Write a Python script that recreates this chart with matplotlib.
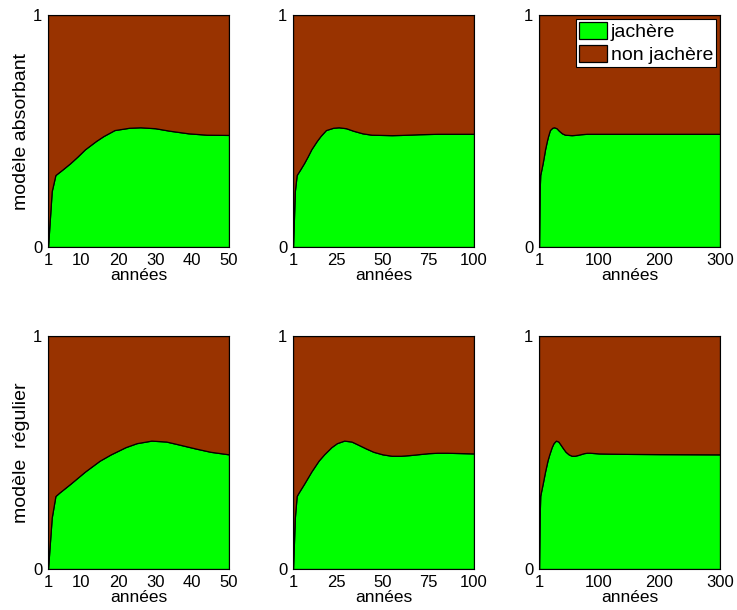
import numpy as np
import matplotlib
matplotlib.use("Agg")
import matplotlib.pyplot as plt

plt.rcParams['font.family'] = ['Liberation Sans', 'DejaVu Sans']

# proportion of fallow land (jachère), per model
years_abs = [1, 2, 3, 5, 7, 9, 11, 14, 16, 19, 23, 26, 30, 34, 39, 44, 50,
             55, 60, 70, 80, 100, 150, 200, 300]
jachere_abs = [0, 0.24, 0.31, 0.335, 0.361, 0.39, 0.421, 0.457, 0.478, 0.504,
               0.514, 0.516, 0.512, 0.501, 0.49, 0.484, 0.483,
               0.482, 0.483, 0.486, 0.488, 0.488, 0.488, 0.488, 0.488]

years_reg = [1, 2, 3, 4, 7, 11, 15, 18, 22, 25, 29, 33, 36, 41, 45, 50, 55,
             60, 65, 70, 75, 80, 85, 90, 100, 120, 150, 200, 300]
jachere_reg = [0, 0.22, 0.313, 0.327, 0.365, 0.418, 0.465, 0.492, 0.523,
               0.54, 0.551, 0.547, 0.536, 0.517, 0.503, 0.492, 0.486,
               0.486, 0.489, 0.493, 0.497, 0.499, 0.499, 0.498, 0.496,
               0.495, 0.494, 0.493, 0.492]

horizons = [50, 100, 300]
xticks = [[1, 10, 20, 30, 40, 50], [1, 25, 50, 75, 100], [1, 100, 200, 300]]
row_labels = ["modèle absorbant", "modèle  régulier"]
legend_labels = ["jachère", "non jachère"]

green = "#00ff00"
brown = "#993300"

fig = plt.figure(figsize=(7.37, 6.10), dpi=100)

lefts = [48, 293, 539]
rows = [(15, 247), (336, 569)]
W, H = 737, 610

models = [(years_abs, jachere_abs), (years_reg, jachere_reg)]

for r, (top, bot) in enumerate(rows):
    yrs, vals = models[r]
    yrs = np.array(yrs, dtype=float)
    vals = np.array(vals)
    for c, n in enumerate(horizons):
        ax = fig.add_axes([lefts[c] / W, 1 - bot / H, 181 / W, (bot - top) / H])
        m = yrs <= n
        x = yrs[m]
        v = vals[m]
        ax.stackplot(x, v, 1 - v, colors=[green, brown],
                     edgecolor='k', linewidth=0.9, labels=legend_labels)
        ax.set_xlim(1, n)
        ax.set_ylim(0, 1)
        ax.set_xticks(xticks[c])
        ax.set_yticks([0, 1])
        ax.tick_params(length=0, labelsize=12, pad=4)
        ax.set_xlabel("années", fontsize=12.5, labelpad=0)
        for s in ax.spines.values():
            s.set_linewidth(0.8)
        if c == 0:
            ax.set_ylabel(row_labels[r], fontsize=14, labelpad=2)
        if r == 0 and c == 2:
            leg = ax.legend(loc='upper right', fontsize=14, fancybox=False,
                            framealpha=1, edgecolor='k',
                            handlelength=1.45, handleheight=1.0,
                            handletextpad=0.2, borderpad=0.15,
                            labelspacing=0.2, borderaxespad=0.2)
            leg.get_frame().set_linewidth(0.8)

fig.savefig("out.png", dpi=100)
